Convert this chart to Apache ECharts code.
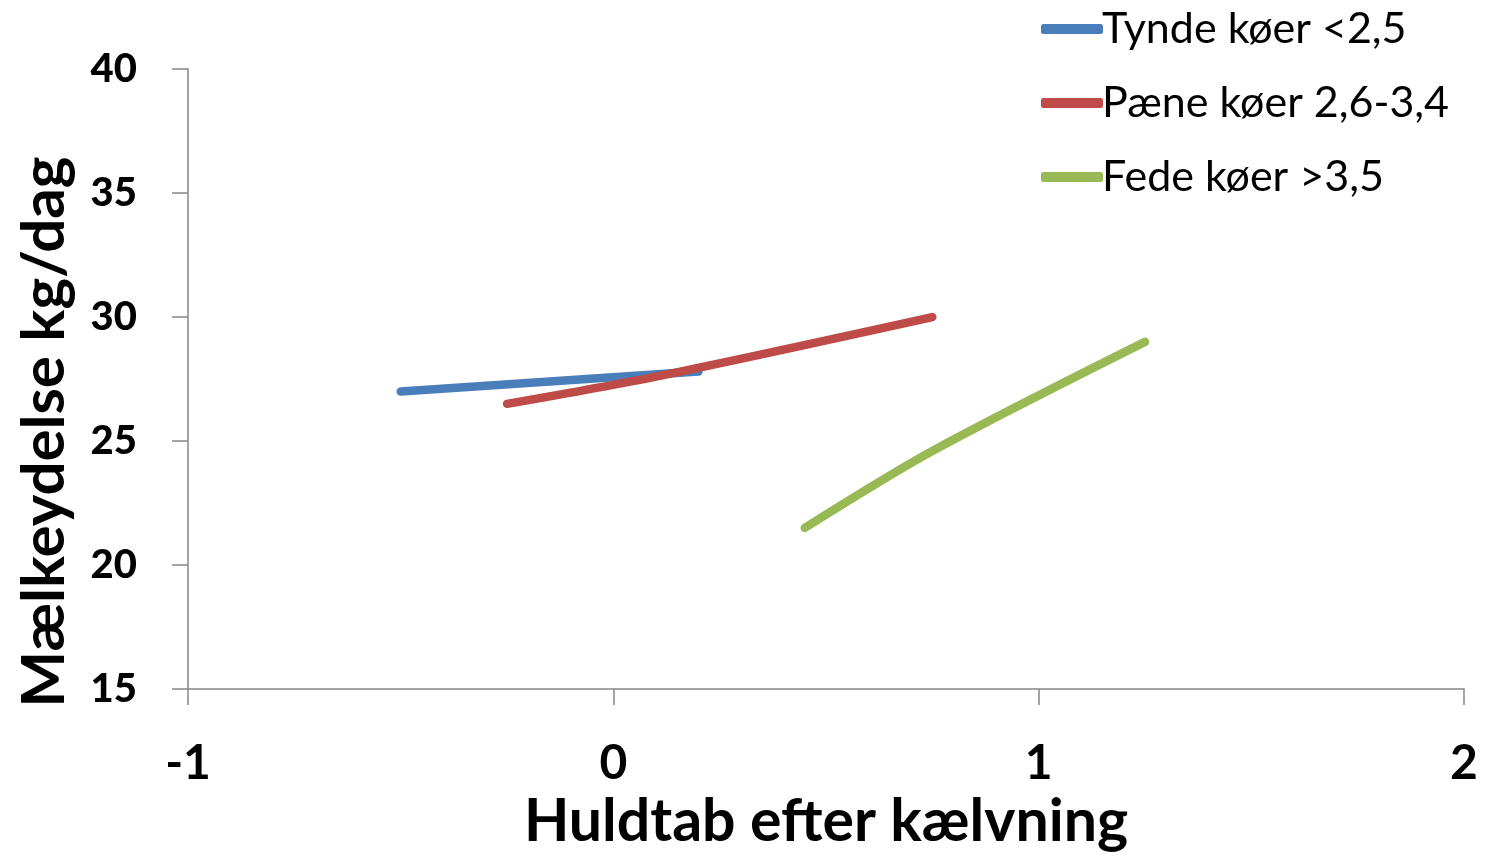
<!DOCTYPE html>
<html><head><meta charset="utf-8">
<script src="https://cdn.jsdelivr.net/npm/echarts@6/dist/echarts.min.js"></script>
<style>html,body{margin:0;padding:0;background:#fff}#c{width:1485px;height:856px}</style>
</head><body><div id="c"></div>
<script>
const seriesNames = ['Tynde køer <2,5', 'Pæne køer 2,6-3,4', 'Fede køer >3,5'];
const xTynde = [-0.5, 0.2];
const yTynde = [27, 27.8];
const xPaene = [-0.25, 0.1, 0.75];
const yPaene = [26.5, 27.6, 30];
const xFede = [0.45, 0.75, 1.25];
const yFede = [21.5, 24.6, 29];
const xTitle = 'Huldtab efter kælvning';
const yTitle = 'Mælkeydelse kg/dag';
const colors = ['#4a7ebb', '#be4b48', '#98b954'];

const zip = (xs, ys) => xs.map((x, i) => [x, ys[i]]);
const chart = echarts.init(document.getElementById('c'), null, {renderer: 'canvas'});
const FONT = 'Lato';
const axisGray = '#868686';
const mk = (i, xs, ys) => ({
  name: seriesNames[i], type: 'line', data: zip(xs, ys), smooth: 0.3,
  symbol: 'none', lineStyle: {color: colors[i], width: 8.5, cap: 'round'},
  itemStyle: {color: colors[i]}, animation: false
});
chart.setOption({
  animation: false,
  grid: {left: 188, right: 21, top: 69, bottom: 166, containLabel: false},
  legend: {
    orient: 'vertical', left: 1036, top: 2,
    icon: 'roundRect', itemWidth: 62, itemHeight: 10, itemGap: 30,
    textStyle: {fontFamily: FONT, fontSize: 43, color: '#000', padding: [0,0,0,-6], lineHeight: 44},
    data: seriesNames
  },
  xAxis: {
    type: 'value', min: -1, max: 2, interval: 1,
    axisLine: {onZero: false, lineStyle: {color: axisGray, width: 1.5}},
    axisTick: {show: true, length: 16, lineStyle: {color: axisGray, width: 1.5}},
    splitLine: {show: false},
    axisLabel: {fontFamily: FONT, fontWeight: 'bold', fontSize: 48, color: '#000', margin: 50},
    name: xTitle, nameLocation: 'middle', nameGap: 84,
    nameTextStyle: {fontFamily: FONT, fontWeight: 'bold', fontSize: 59, color: '#000'}
  },
  yAxis: {
    type: 'value', min: 15, max: 40, interval: 5,
    axisLine: {show: true, onZero: false, lineStyle: {color: axisGray, width: 1.5}},
    axisTick: {show: true, length: 16, lineStyle: {color: axisGray, width: 1.5}},
    splitLine: {show: false},
    axisLabel: {fontFamily: FONT, fontWeight: 900, fontSize: 40, color: '#000', margin: 51}
  },
  graphic: [{
    type: 'text', x: 45, y: 432, rotation: Math.PI / 2,
    style: {text: yTitle, font: 'bold 60px Lato', fill: '#000', textAlign: 'center', textVerticalAlign: 'middle'}
  }],
  series: [mk(0, xTynde, yTynde), mk(1, xPaene, yPaene), mk(2, xFede, yFede)]
});
</script></body></html>
